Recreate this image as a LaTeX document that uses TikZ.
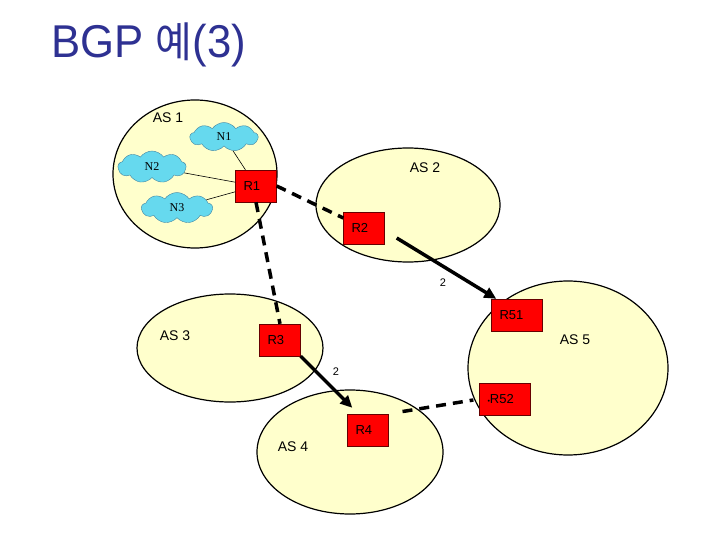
\documentclass[tikz,border=0pt]{standalone}
\usepackage{fontspec}
\setmainfont{Liberation Sans}
\newfontfamily\krfont{Noto Sans CJK KR}
\newfontfamily\netfont{Liberation Serif}
\usetikzlibrary{shapes.geometric,shapes.symbols,arrows.meta}
\definecolor{asfill}{RGB}{255,255,204}
\definecolor{netfill}{RGB}{102,217,238}
\definecolor{titleblue}{RGB}{46,49,146}

\begin{document}
\begin{tikzpicture}[x=1pt,y=-1pt,
  asarea/.style={draw, ellipse, fill=asfill, line width=1.2pt, inner sep=0pt},
  aslabel/.style={font=\fontsize{14}{16}\selectfont},
  router/.style={draw=black!60!red, fill=red, minimum height=32pt, inner xsep=8pt,
    text width=25pt, align=left, font=\fontsize{13}{15}\selectfont},
  wide/.style={text width=35pt},
  net/.style={cloud, cloud puffs=9, cloud puff arc=110, cloud ignores aspect,
    draw=cyan!60!black, fill=netfill, inner sep=0pt, font=\netfont\fontsize{12}{14}\selectfont},
  bgplink/.style={line width=3.5pt, dash pattern=on 10pt off 7pt},
  update/.style={line width=3.5pt, -{Triangle[length=12pt,width=11pt]}},
  hoplabel/.style={font=\fontsize{11}{13}\selectfont}
]
\useasboundingbox (0,0) rectangle (720,540);

\node [text=titleblue, font=\fontsize{46}{50}\selectfont, anchor=west, xscale=0.95] (title) at (48,45) {BGP {\krfont\fontsize{42}{46}\selectfont 예}(3)};

% the five ASes
\node [asarea, minimum width=164pt, minimum height=148pt] (as1) at (195,174) {};
\node [asarea, minimum width=184pt, minimum height=114pt] (as2) at (408,205) {};
\node [asarea, minimum width=186pt, minimum height=108pt] (as3) at (230,348) {};
\node [asarea, minimum width=186pt, minimum height=124pt] (as4) at (350,452) {};
\node [asarea, minimum width=200pt, minimum height=174pt] (as5) at (568,368) {};
\node [aslabel] (as1lbl) at (168,118) {AS 1};
\node [aslabel] (as2lbl) at (425,168) {AS 2};
\node [aslabel] (as3lbl) at (175,336) {AS 3};
\node [aslabel] (as4lbl) at (293,447) {AS 4};
\node [aslabel] (as5lbl) at (575,340) {AS 5};

% networks in AS 1
\node [net, minimum width=68pt, minimum height=29pt] (n1) at (224,137) {N1};
\node [net, minimum width=68pt, minimum height=32pt] (n2) at (152,167) {N2};
\node [net, minimum width=71pt, minimum height=31pt] (n3) at (177,208) {N3};

% routers
\node [router] (r1) at (256,186) {R1};
\node [router] (r2) at (364,228) {R2};
\node [router] (r3) at (280,340) {R3};
\node [router] (r4) at (368,430) {R4};
\node [router, wide] (r51) at (517,315) {R51};
\node [router, wide] (r52) at (505,399) {{\fontsize{7}{8}\selectfont •}R52};

\draw [line width=0.6pt] (n1) -- (r1);
\draw [line width=0.6pt] (n2) -- (r1);
\draw [line width=0.6pt] (n3) -- (r1);

% sessions and updates
\draw [bgplink] (r1.east) -- ([yshift=10pt]r2.west);
\draw [bgplink] (r1.south) -- (r3.north);
\draw [bgplink, shorten <=14pt, shorten >=6pt] (r4.north east) -- (r52.west);
\draw [update] ([xshift=12pt,yshift=-10pt]r2.east) -- ([xshift=5pt]r51.north west);
\draw [update] (r3.south east) -- ([xshift=5pt,yshift=6pt]r4.north west);
\node [hoplabel] (hop1) at (443,283) {2};
\node [hoplabel] (hop2) at (336,372) {2};
\end{tikzpicture}
\end{document}
